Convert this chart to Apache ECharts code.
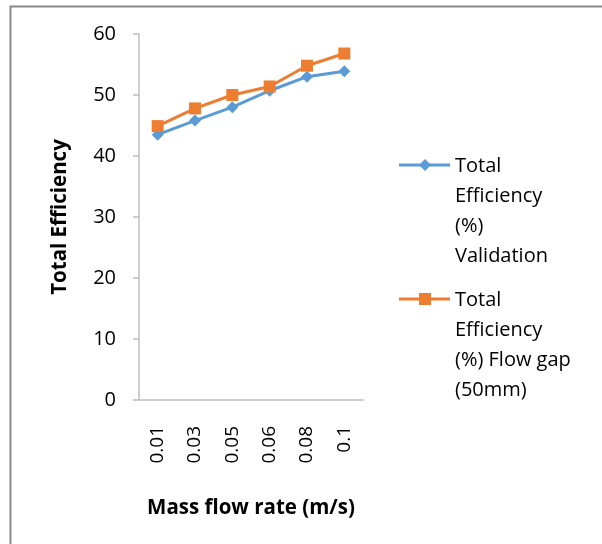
<!DOCTYPE html>
<html><head><meta charset="utf-8">
<script src="https://cdn.jsdelivr.net/npm/echarts@6/dist/echarts.min.js"></script>
<style>html,body{margin:0;padding:0;background:#fff}#c{width:602px;height:544px}</style>
</head><body><div id="c"></div>
<script>
const categories = ['0.01', '0.03', '0.05', '0.06', '0.08', '0.1'];
const validation = [43.5, 45.8, 48.0, 50.7, 53.0, 53.9];
const flowGap = [44.9, 47.8, 50.0, 51.4, 54.8, 56.8];
const yTicks = [0, 10, 20, 30, 40, 50, 60];
const seriesNames = ['Total\nEfficiency\n(%)\nValidation', 'Total\nEfficiency\n(%) Flow gap\n(50mm)'];
const colors = ['#5B9BD5', '#ED7D31'];
const FONT = 'Open Sans';

const chart = echarts.init(document.getElementById('c'));
chart.setOption({
  animation: false,
  backgroundColor: '#fff',
  grid: { left: 139, right: 239, top: 34, bottom: 144 },
  xAxis: {
    type: 'category', data: categories, boundaryGap: true,
    axisLine: { lineStyle: { color: '#bfbfbf', width: 1.5 } },
    axisTick: { show: false },
    axisLabel: { rotate: 90, margin: 26, color: '#000', fontFamily: FONT, fontSize: 19 },
    name: 'Mass flow rate (m/s)', nameLocation: 'middle', nameGap: 98,
    nameTextStyle: { color: '#000', fontFamily: FONT, fontSize: 20.5, fontWeight: 'bold' }
  },
  yAxis: {
    type: 'value', min: yTicks[0], max: yTicks[yTicks.length - 1], interval: 10,
    splitLine: { show: false },
    axisLine: { show: true, lineStyle: { color: '#bfbfbf', width: 1.5 } },
    axisTick: { show: true, length: 6, lineStyle: { color: '#bfbfbf', width: 1.5 } },
    axisLabel: { margin: 23, color: '#000', fontFamily: FONT, fontSize: 20 },
    name: 'Total Efficiency', nameLocation: 'middle', nameGap: 68,
    nameTextStyle: { color: '#000', fontFamily: FONT, fontSize: 20.5, fontWeight: 'bold' }
  },
  series: [
    { name: seriesNames[0], type: 'line', data: validation, symbol: 'diamond', symbolSize: 12,
      lineStyle: { color: colors[0], width: 3 }, itemStyle: { color: colors[0] }, z: 2 },
    { name: seriesNames[1], type: 'line', data: flowGap, symbol: 'rect', symbolSize: 12,
      lineStyle: { color: colors[1], width: 3 }, itemStyle: { color: colors[1] }, z: 3 }
  ],
  graphic: [
    { type: 'rect', shape: { x: 10.5, y: 6.5, width: 700, height: 700 },
      style: { fill: 'none', stroke: '#888', lineWidth: 2 }, silent: true },
    { type: 'text', left: 278, top: -19,
      style: { text: 'ng p', fontFamily: 'Liberation Serif', fontSize: 18, fill: '#000' } },
    // legend item 1
    { type: 'line', shape: { x1: 399, y1: 165, x2: 450, y2: 165 }, style: { stroke: colors[0], lineWidth: 3 } },
    { type: 'polygon', shape: { points: [[425, 159], [431, 165], [425, 171], [419, 165]] }, style: { fill: colors[0] } },
    { type: 'text', left: 455, top: 151,
      style: { text: seriesNames[0], fontFamily: FONT, fontSize: 20, lineHeight: 30, fill: '#000' } },
    // legend item 2
    { type: 'line', shape: { x1: 399, y1: 299, x2: 450, y2: 299 }, style: { stroke: colors[1], lineWidth: 3 } },
    { type: 'rect', shape: { x: 419, y: 293, width: 12, height: 12 }, style: { fill: colors[1] } },
    { type: 'text', left: 455, top: 285,
      style: { text: seriesNames[1], fontFamily: FONT, fontSize: 20, lineHeight: 30, fill: '#000' } }
  ]
});
</script></body></html>
